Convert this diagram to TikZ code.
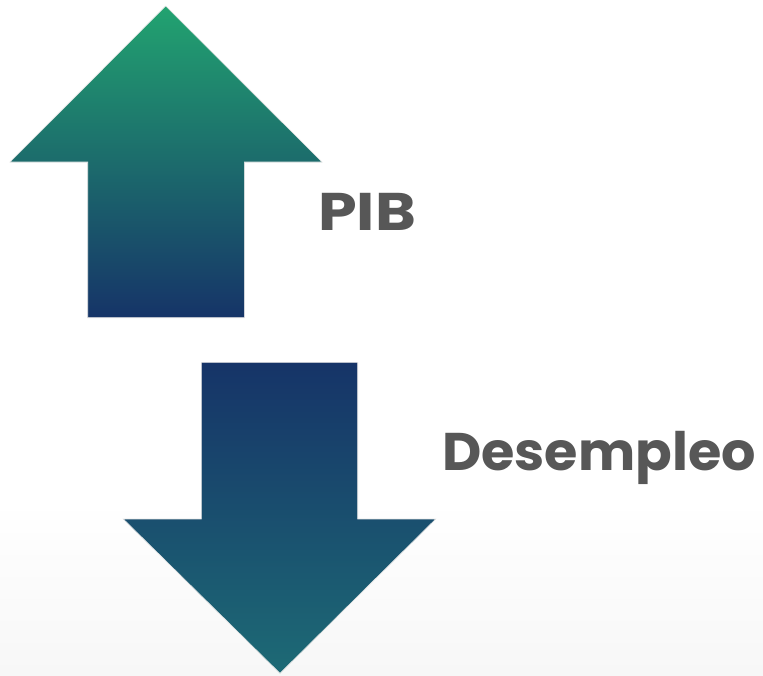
\documentclass[tikz,border=0pt]{standalone}
\usepackage{fontspec}
\setmainfont{Poppins}
\begin{document}
\begin{tikzpicture}[x=1pt,y=-1pt,
  arrowshape/.style={draw=white!80!gray, line width=0.6pt},
  lbl/.style={anchor=base west, inner sep=0pt, text=txtgray, font=\fontsize{53}{60}\selectfont\bfseries}]
\definecolor{txtgray}{HTML}{575757}
\definecolor{upgreen}{HTML}{22A370}
\definecolor{navy}{HTML}{163468}
\definecolor{teal}{HTML}{1D6A75}
\definecolor{bglow}{HTML}{F7F7F7}
\useasboundingbox (0,0) rectangle (763,675);
\fill[white] (0,0) rectangle (763,500);
\shade[top color=white, bottom color=bglow] (0,500) rectangle (763,675);
% up arrow
\shade[arrowshape, top color=upgreen, bottom color=navy]
  (165.7,6) -- (322,162) -- (244.3,162) -- (244.3,317.7) -- (87.7,317.7) -- (87.7,162) -- (10,162) -- cycle;
% down arrow
\shade[arrowshape, top color=navy, bottom color=teal]
  (201.3,362.3) -- (357.7,362.3) -- (357.7,519) -- (435.7,519) -- (280,673.3) -- (123.3,519) -- (201.3,519) -- cycle;
\node[lbl, xscale=1.17] (pib) at (318,230.7) {PIB};
\node[lbl, xscale=1.02] (des) at (442,470) {Desempleo};
\end{tikzpicture}
\end{document}
